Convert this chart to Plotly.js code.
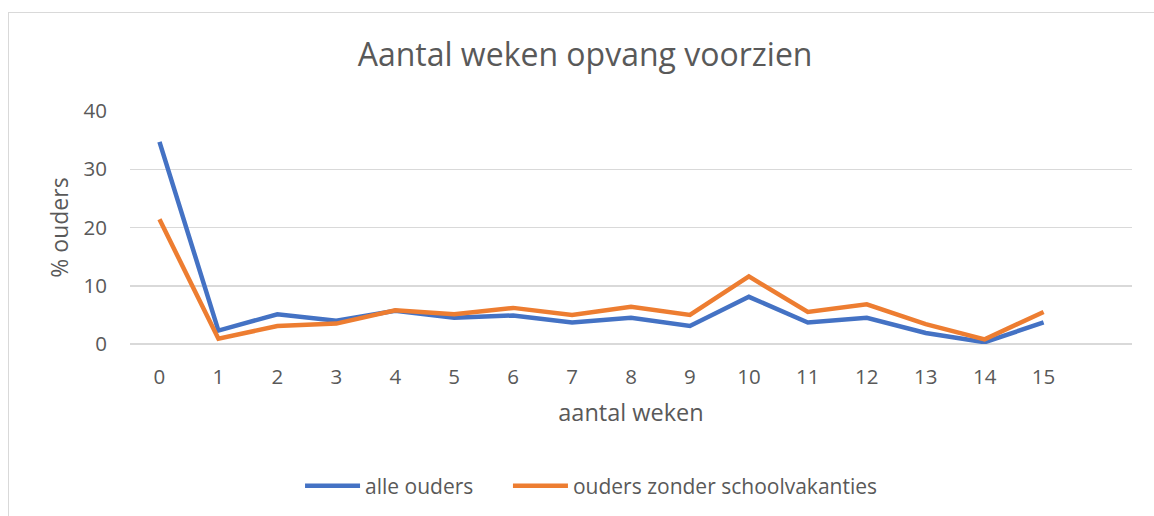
<!DOCTYPE html>
<html>
<head>
<meta charset="utf-8">
<script src="https://cdn.plot.ly/plotly-3.0.1.min.js"></script>
<style>
html,body{margin:0;padding:0;background:#fff;}
#frame{position:absolute;left:8px;top:12px;width:1160px;height:520px;border-left:1px solid #d9d9d9;border-top:1px solid #d9d9d9;}
#chart{position:absolute;left:0;top:0;width:1154px;height:516px;}
</style>
</head>
<body>
<div id="frame"></div>
<div id="chart"></div>
<script>
const weeks = [0,1,2,3,4,5,6,7,8,9,10,11,12,13,14,15];
const weekLabels = ["0","1","2","3","4","5","6","7","8","9","10","11","12","13","14","15"];
const alleOuders = [34.7,2.3,5.1,4.0,5.7,4.5,4.9,3.7,4.5,3.1,8.1,3.7,4.5,1.9,0.3,3.7];
const zonderVakanties = [21.4,0.9,3.1,3.5,5.8,5.1,6.2,5.0,6.4,5.0,11.6,5.5,6.8,3.4,0.8,5.5];
const seriesNames = ["alle ouders","ouders zonder schoolvakanties"];
const yTicks = [0,10,20,30,40];

const font = "'Open Sans', 'Noto Sans', sans-serif";
const grey = "#595959";

const traces = [
  {x: weeks, y: alleOuders, name: seriesNames[0], type: "scatter", mode: "lines", legend: "legend",
   line: {color: "#4472C4", width: 4.5, shape: "linear"}},
  {x: weeks, y: zonderVakanties, name: seriesNames[1], type: "scatter", mode: "lines", legend: "legend2",
   line: {color: "#ED7D31", width: 4.5, shape: "linear"}}
];

const legendBase = {orientation: "h", xanchor: "left", y: -0.61, yanchor: "middle",
  font: {size: 21, color: grey}, itemwidth: 55, bgcolor: "rgba(0,0,0,0)"};

const layout = {
  width: 1154, height: 516,
  paper_bgcolor: "rgba(0,0,0,0)", plot_bgcolor: "rgba(0,0,0,0)",
  margin: {l: 130, r: 22, t: 111, b: 171.5, autoexpand: false},
  font: {family: font, color: grey, size: 20},
  title: {text: "Aantal weken opvang voorzien", font: {family: font, size: 32, color: grey},
          x: 0.507, xanchor: "center", y: 0.893, yanchor: "middle"},
  xaxis: {range: [-0.5, 16.5], tickvals: weeks, ticktext: weekLabels, showgrid: false,
          zeroline: false, showline: false, ticks: "", ticklabelstandoff: 18,
          tickfont: {size: 20.5, color: grey},
          title: {text: "aantal weken", font: {size: 23.5, color: grey}, standoff: 16}},
  yaxis: {range: [0, 40], tickvals: yTicks, showgrid: true, gridcolor: "#d9d9d9", gridwidth: 1.5,
          zeroline: true, zerolinecolor: "#d9d9d9", zerolinewidth: 1.5, showline: false, ticks: "",
          ticklabelstandoff: 22, tickfont: {size: 20.5, color: grey},
          title: {text: "% ouders", font: {size: 23, color: grey}, standoff: 8}},
  showlegend: true,
  legend: Object.assign({}, legendBase, {x: 0.1697}),
  legend2: Object.assign({}, legendBase, {x: 0.3772})
};

Plotly.newPlot("chart", traces, layout, {displayModeBar: false, staticPlot: true});
</script>
</body>
</html>
